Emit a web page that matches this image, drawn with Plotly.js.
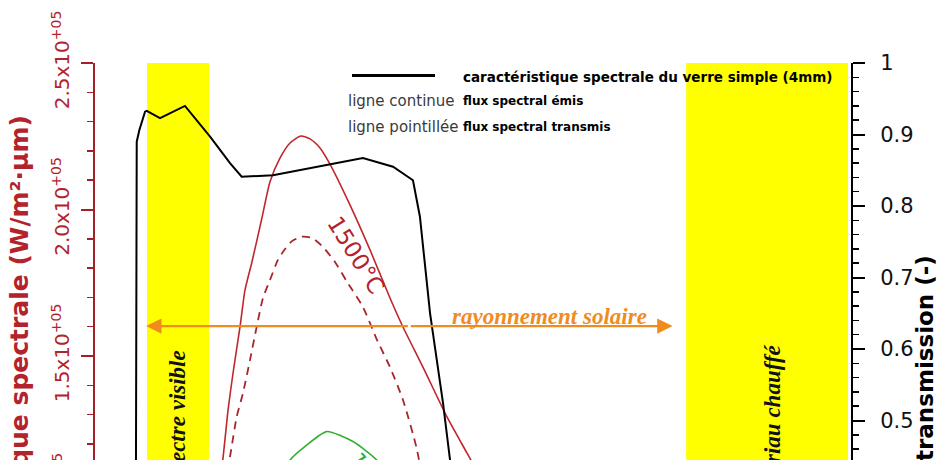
<!DOCTYPE html>
<html><head><meta charset="utf-8">
<script src="https://cdn.plot.ly/plotly-3.0.1.min.js"></script>
<style>html,body{margin:0;padding:0;background:#fff;overflow:hidden}#chart{width:942px;height:460px}</style>
</head><body><div id="chart"></div>
<script>
// ---- data (wavelength in µm) ----
const glassLambda = [0.20, 0.25, 0.262, 0.271, 0.276, 0.293, 0.331, 0.342, 0.430, 0.595, 0.761, 0.893, 0.970, 1.177, 1.772, 1.971, 2.103, 2.130, 2.149, 2.216, 2.302, 2.348, 2.45, 2.60, 2.75, 3.0, 3.5, 4.0, 4.5, 5.0];
const glassTransmission = [0.0, 0.0, 0.20, 0.45, 0.890, 0.906, 0.932, 0.933, 0.923, 0.940, 0.897, 0.860, 0.841, 0.843, 0.867, 0.855, 0.836, 0.808, 0.785, 0.650, 0.524, 0.445, 0.33, 0.25, 0.22, 0.15, 0.10, 0.03, 0.0, 0.0];

const emit1500Lambda = [0.60, 0.70, 0.78, 0.845, 0.880, 0.913, 0.959, 0.992, 1.038, 1.104, 1.157, 1.224, 1.290, 1.362, 1.422, 1.488, 1.554, 1.687, 1.819, 1.951, 2.037, 2.169, 2.328, 2.460, 2.6, 2.8, 3.2, 3.6, 4.0, 4.5, 5.0];
const emit1500Flux = [30000, 62000, 92000, 114500, 131600, 144200, 159900, 172500, 182100, 197100, 209400, 217600, 222700, 225100, 224100, 221000, 215500, 201500, 186200, 169800, 159900, 146200, 129200, 116900, 104000, 88000, 65000, 48000, 37000, 27000, 20000];

const trans1500Lambda = [0.60, 0.70, 0.78, 0.845, 0.897, 0.937, 0.979, 1.025, 1.069, 1.111, 1.157, 1.210, 1.257, 1.303, 1.367, 1.435, 1.508, 1.587, 1.667, 1.772, 1.865, 1.951, 2.037, 2.130, 2.216, 2.35, 2.6, 3.0, 3.5, 4.0];
const trans1500Flux = [26000, 52000, 80000, 102000, 116900, 129200, 137400, 148600, 159900, 169800, 175900, 182800, 186500, 189200, 190700, 190300, 187200, 182100, 175300, 166700, 155500, 146200, 135000, 117900, 92000, 56000, 25000, 11000, 4000, 0];

const emit1000Lambda = [1.0, 1.15, 1.290, 1.400, 1.532, 1.706, 1.863, 2.05, 2.3, 2.6, 3.0, 3.5, 4.0];
const emit1000Flux = [80000, 100000, 114500, 119600, 124200, 120800, 114500, 100000, 80000, 60000, 40000, 26000, 18000];

const visibleBand = [0.344, 0.754];
const heatedBand = [3.91, 4.98];
const solarRange = [0.338, 3.82];
const solarLevel = 160200;

const leftTickVals = [150000, 200000, 250000];
const leftTickText = ['1.5x10<sup>+05</sup>', '2.0x10<sup>+05</sup>', '2.5x10<sup>+05</sup>'];
const rightTickVals = [0.5, 0.6, 0.7, 0.8, 0.9, 1];
const rightTickText = ['0.5', '0.6', '0.7', '0.8', '0.9', '1'];

// ---- geometry helpers (pixel -> paper) ----
const PL = 95, PR = 851, PT = 63, PB = 460;
const fx = px => (px - PL) / (PR - PL);
const fy = py => (PB - py) / (PB - PT);

const RED = '#b3232b', RED_AX = '#a3202a', ORANGE = '#f08c1e', GREEN = '#2fb12f';
const SANS = 'DejaVu Sans', SERIF = 'Liberation Serif';

const traces = [
  {x: glassLambda, y: glassTransmission, yaxis: 'y2', mode: 'lines', line: {color: '#000', width: 2}},
  {x: emit1500Lambda, y: emit1500Flux, mode: 'lines', line: {color: '#c0272d', width: 1.6, shape: 'spline', smoothing: 0.6}},
  {x: trans1500Lambda, y: trans1500Flux, mode: 'lines', line: {color: '#a8262b', width: 1.8, dash: '8px,6px', shape: 'spline', smoothing: 0.6}},
  {x: emit1000Lambda, y: emit1000Flux, mode: 'lines', line: {color: GREEN, width: 1.6, shape: 'spline', smoothing: 0.6}}
];

const shapes = [
  {type: 'rect', xref: 'x', yref: 'paper', x0: visibleBand[0], x1: visibleBand[1], y0: 0, y1: 1, fillcolor: '#ffff00', line: {width: 0}, layer: 'below'},
  {type: 'rect', xref: 'x', yref: 'paper', x0: heatedBand[0], x1: heatedBand[1], y0: 0, y1: 1, fillcolor: '#ffff00', line: {width: 0}, layer: 'below'},
  {type: 'line', xref: 'paper', yref: 'paper', x0: fx(352), x1: fx(435), y0: fy(75.5), y1: fy(75.5), line: {color: '#000', width: 3}}
];

const solarMid = (solarRange[0] + solarRange[1]) / 2;
function txt(px, py, text, font, extra) {
  return Object.assign({xref: 'paper', yref: 'paper', x: fx(px), y: fy(py), xanchor: 'center', yanchor: 'middle', text: text, showarrow: false, font: font}, extra || {});
}
const annotations = [
  {xref: 'x', yref: 'y', axref: 'x', ayref: 'y', x: solarRange[0], y: solarLevel, ax: solarMid, ay: solarLevel, text: '', showarrow: true, arrowhead: 2, arrowsize: 1.4, arrowwidth: 2.2, arrowcolor: ORANGE, standoff: 0},
  {xref: 'x', yref: 'y', axref: 'x', ayref: 'y', x: solarRange[1], y: solarLevel, ax: solarMid, ay: solarLevel, text: '', showarrow: true, arrowhead: 2, arrowsize: 1.4, arrowwidth: 2.2, arrowcolor: ORANGE, standoff: 0},
  txt(549, 316, '<b><i>rayonnement solaire</i></b>', {family: SERIF, size: 23, color: ORANGE}),
  txt(177, 349, '<b><i>spectre visible</i></b>', {family: SERIF, size: 23, color: '#111'}, {yanchor: 'top', textangle: -90}),
  txt(772, 342, '<b><i>rayonnement du matériau chauffé</i></b>', {family: SERIF, size: 23, color: '#111'}, {yanchor: 'top', textangle: -90}),
  txt(461, 77, '<b>caractéristique spectrale du verre simple (4mm)</b>', {family: SANS, size: 13.5, color: '#000'}, {xanchor: 'left'}),
  txt(346, 101, 'ligne continue', {family: SANS, size: 15, color: '#3a3a3a'}, {xanchor: 'left'}),
  txt(461, 101, '<b>flux spectral émis</b>', {family: SANS, size: 12, color: '#000'}, {xanchor: 'left'}),
  txt(346, 127, 'ligne pointillée', {family: SANS, size: 15, color: '#3a3a3a'}, {xanchor: 'left'}),
  txt(461, 127, '<b>flux spectral transmis</b>', {family: SANS, size: 12, color: '#000'}, {xanchor: 'left'}),
  txt(356, 255, '1500°C', {family: SANS, size: 23, color: RED}, {textangle: 58}),
  txt(377, 491, '1000°C', {family: SANS, size: 23, color: GREEN}, {textangle: 58}),
  txt(19, 113, '<b>Émittance énergétique spectrale (W/m²·µm)</b>', {family: SANS, size: 25, color: RED}, {yanchor: 'top', textangle: -90}),
  txt(925, 253, '<b>transmission (-)</b>', {family: SANS, size: 23, color: '#000'}, {yanchor: 'top', textangle: -90}),
  txt(62, 502.5, '1.0x10<sup>+05</sup>', {family: SANS, size: 20, color: RED}, {textangle: -90})
];

const layout = {
  width: 942, height: 460,
  margin: {l: PL, r: 942 - PR, t: PT, b: 0, pad: 0},
  paper_bgcolor: '#fff', plot_bgcolor: 'rgba(0,0,0,0)',
  showlegend: false,
  xaxis: {range: [0, 5], visible: false, fixedrange: true},
  yaxis: {
    range: [114505, 250000], showgrid: false, zeroline: false,
    showline: true, linecolor: RED_AX, linewidth: 2,
    ticks: 'outside', ticklen: 12, tickwidth: 2, tickcolor: RED_AX,
    tickmode: 'array', tickvals: leftTickVals, ticktext: leftTickText, tickangle: -90,
    ticklabelstandoff: 4,
    tickfont: {family: SANS, size: 20, color: RED},
    minor: {tickmode: 'linear', tick0: 0, dtick: 10000, ticks: 'outside', ticklen: 6, tickwidth: 1.5, tickcolor: RED_AX, showgrid: false}
  },
  yaxis2: {
    overlaying: 'y', side: 'right', anchor: 'x',
    range: [0.4448, 1], showgrid: false, zeroline: false,
    showline: true, linecolor: '#000', linewidth: 2,
    ticks: 'outside', ticklen: 12, tickwidth: 2, tickcolor: '#000',
    tickmode: 'array', tickvals: rightTickVals, ticktext: rightTickText,
    ticklabelstandoff: 11,
    tickfont: {family: SANS, size: 21, color: '#111'},
    minor: {tickmode: 'linear', tick0: 0, dtick: 0.02, ticks: 'outside', ticklen: 6, tickwidth: 1.5, tickcolor: '#000', showgrid: false}
  },
  shapes: shapes,
  annotations: annotations
};

Plotly.newPlot('chart', traces, layout, {displayModeBar: false, staticPlot: true});
</script>
</body></html>
